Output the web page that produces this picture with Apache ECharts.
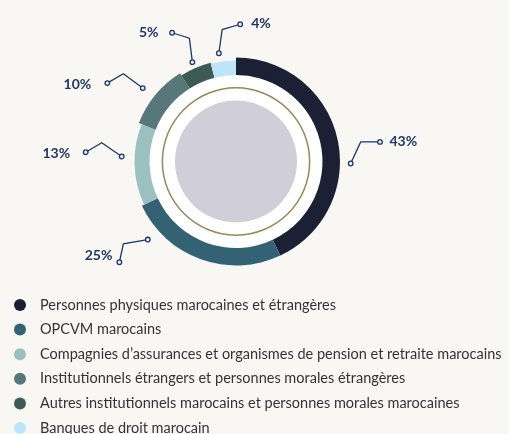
<!DOCTYPE html>
<html>
<head>
<meta charset="utf-8">
<script src="https://cdn.jsdelivr.net/npm/echarts@6/dist/echarts.min.js"></script>
<style>
html,body{margin:0;padding:0;background:#f8f7f4;}
#c{width:509px;height:434px;}
</style>
</head>
<body>
<div id="c"></div>
<script>
// ---- data ----
const categories = [
  'Personnes physiques marocaines et étrangères',
  'OPCVM marocains',
  'Compagnies d\u2019assurances et organismes de pension et retraite marocains',
  'Institutionnels étrangers et personnes morales étrangères',
  'Autres institutionnels marocains et personnes morales marocaines',
  'Banques de droit marocain'
];
const values = [43, 25, 13, 10, 5, 4];
const valueLabels = ['43%', '25%', '13%', '10%', '5%', '4%'];

// ---- style ----
const colors = ['#1c2035', '#336274', '#9bc0c0', '#57777a', '#3e5a54', '#bde5fa'];
const outerRadii = [104, 104, 101.5, 104.5, 102, 101];
const innerRadius = 86.5;
const center = [236, 161.5];
const labelColor = '#1f3863';
// leader layout: angle offset from slice middle (deg), anchor radius, bend offset, end offset, text offset, align
const leaders = [
  {da: 13.6, r: 114.7, bend: [10, -21.6], end: [29.3, -21.6], txt: [9.5, -0.5], align: 'left'},
  {da: 28.7, r: 117.8, bend: [-24.4, 4.3], end: [-28.4, 22.7], txt: [-7, -6.5], align: 'right'},
  {da: 4.3, r: 114.4, bend: [-20, -13.7], end: [-36, -4.3], txt: [-15.5, 0.8], align: 'right'},
  {da: -1.4, r: 118.7, bend: [-19.4, -14.4], end: [-35.4, -5], txt: [-16, 1], align: 'right'},
  {da: -0.3, r: 108.5, bend: [-3, -24], end: [-20.3, -29.4], txt: [-13.5, 0], align: 'right'},
  {da: -1.8, r: 109.6, bend: [3.3, -23.7], end: [21.3, -29], txt: [11, -0.5], align: 'left'}
];

const total = values.reduce((a, b) => a + b, 0);
const series = [];

// white backdrop disk, gold ring, grey disk
series.push({type: 'pie', silent: true, center: center, radius: [0, innerRadius], label: {show: false},
  itemStyle: {color: '#ffffff'}, data: [{value: 1, name: '_w'}], z: 1});
series.push({type: 'pie', silent: true, center: center, radius: [72.9, 74.4], label: {show: false},
  itemStyle: {color: '#9c8657'}, data: [{value: 1, name: '_g'}], z: 2});
series.push({type: 'pie', silent: true, center: center, radius: [0, 61], label: {show: false},
  itemStyle: {color: '#d0ced9'}, data: [{value: 1, name: '_d'}], z: 2});

// one ring per slice (each slice has its own outer radius)
values.forEach((v, i) => {
  series.push({
    type: 'pie', silent: true, center: center, radius: [innerRadius, outerRadii[i]],
    startAngle: 90, clockwise: true, label: {show: false}, labelLine: {show: false},
    avoidLabelOverlap: false, z: 3,
    data: values.map((val, j) => ({
      value: val, name: categories[j],
      itemStyle: {color: j === i ? colors[j] : 'rgba(0,0,0,0)', borderWidth: 0}
    }))
  });
});

// leader lines + value labels computed from the data
series.push({
  type: 'custom', coordinateSystem: 'none', silent: true, z: 10,
  data: [0],
  renderItem: function () {
    const children = [];
    let cum = 0;
    values.forEach((v, i) => {
      const mid = (cum + v / 2) / total * 360;
      cum += v;
      const L = leaders[i];
      const a = (mid + L.da) * Math.PI / 180;
      const p0 = [center[0] + L.r * Math.sin(a), center[1] - L.r * Math.cos(a)];
      const p1 = [p0[0] + L.bend[0], p0[1] + L.bend[1]];
      const p2 = [p0[0] + L.end[0], p0[1] + L.end[1]];
      children.push({type: 'polyline', shape: {points: [p0, p1, p2]},
        style: {stroke: labelColor, lineWidth: 1.3, fill: null}});
      [p0, p2].forEach(p => children.push({type: 'circle', shape: {cx: p[0], cy: p[1], r: 2.3},
        style: {fill: '#e8ebf2', stroke: labelColor, lineWidth: 1.3}}));
      children.push({type: 'text', x: p2[0] + L.txt[0], y: p2[1] + L.txt[1],
        style: {text: valueLabels[i], fill: labelColor, fontFamily: 'Lato', fontWeight: 'bold',
          fontStyle: 'normal', fontSize: 14, align: L.align, verticalAlign: 'middle'}});
    });
    return {type: 'group', children: children};
  }
});

const chart = echarts.init(document.getElementById('c'), null, {renderer: 'canvas'});
chart.setOption({
  backgroundColor: '#f8f7f4',
  animation: false,
  legend: {
    orient: 'vertical', left: 14, top: 297.5, padding: 0, height: 200,
    itemWidth: 12, itemHeight: 12, itemGap: 9.6, icon: 'circle',
    selectedMode: false,
    textStyle: {fontFamily: 'Lato', fontSize: 14.5, color: '#333333', lineHeight: 14, padding: [0, 0, 0, 9]},
    data: categories.map((c, i) => ({name: c, itemStyle: {color: colors[i]}}))
  },
  series: series
});
</script>
</body>
</html>
